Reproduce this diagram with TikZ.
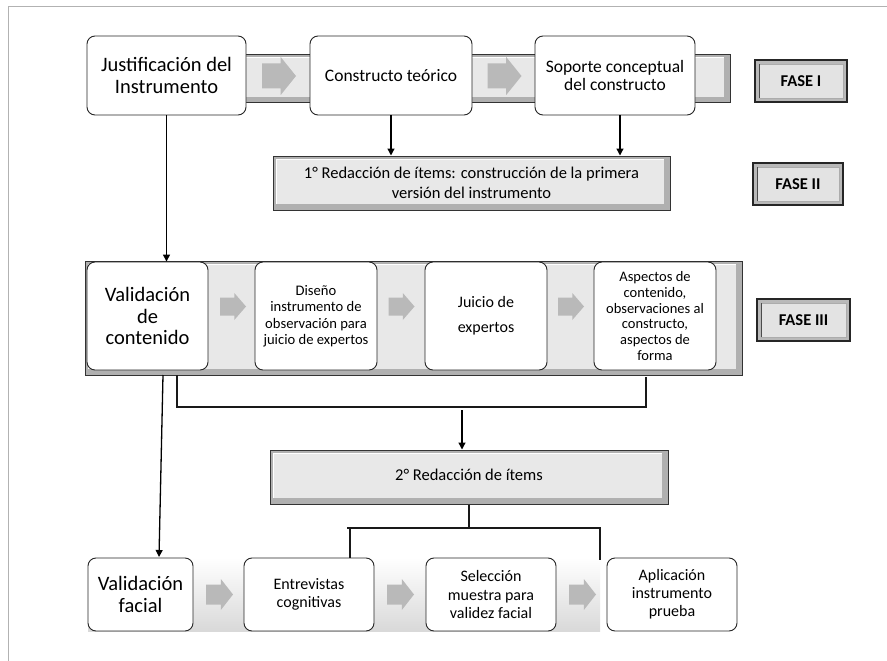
\documentclass[tikz,border=0pt]{standalone}
\usepackage{fontspec}
\setmainfont{Carlito}
\usetikzlibrary{calc,arrows.meta}
\begin{document}
\begin{tikzpicture}[x=1pt,y=-1pt,
  rbox/.style={draw=black!85, line width=0.9pt, rounded corners=8pt, fill=white, align=center, inner sep=2pt},
  conn/.style={draw=black, line width=1.3pt, -{Triangle[length=7pt,width=7pt]}},
  bline/.style={draw=black!90, line width=1.6pt},
  tline/.style={draw=black!90, line width=2.2pt},
  arrowfill/.style={fill=gray!55},
  pics/barrow/.style args={#1/#2/#3}{code={
    \fill[arrowfill] (-#1/2,-#3/2) -- ({-#1/2+0.55*#1},-#3/2) -- ({-#1/2+0.55*#1},-#2/2) -- (#1/2,0)
      -- ({-#1/2+0.55*#1},#2/2) -- ({-#1/2+0.55*#1},#3/2) -- (-#1/2,#3/2) -- cycle;}},
  bevel/.style={draw=black!80, line width=1pt, fill=gray!62, inner sep=0pt, align=center,
    path picture={
      \fill[gray!18] ($(path picture bounding box.north west)+(3,3)$) rectangle ($(path picture bounding box.south east)+(-6,-6)$);
      \draw[white, line width=1pt] ($(path picture bounding box.south west)+(3,-6)$) -- ($(path picture bounding box.north west)+(3,3)$) -- ($(path picture bounding box.north east)+(-6,3)$);
    }},
  fase/.style={draw=black!85, line width=1.3pt, fill=gray!55, inner sep=0pt,
    minimum height=42pt, font=\bfseries\fontsize{16.5}{19}\selectfont,
    path picture={
      \fill[gray!22] ($(path picture bounding box.north west)+(4,4)$) rectangle ($(path picture bounding box.south east)+(-4,-4)$);
      \draw[gray!65, line width=0.8pt] ($(path picture bounding box.north west)+(4,4)$) rectangle ($(path picture bounding box.south east)+(-4,-4)$);
      \draw[black!70, line width=1.4pt] ($(path picture bounding box.north west)+(4.5,4)$) -- ($(path picture bounding box.south west)+(4.5,-4)$);
    }},
]
\useasboundingbox (0,0) rectangle (887,661);
\fill[white] (0,0) rectangle (887,661);
% frame
\draw[gray!60, line width=1pt] (8,661) -- (8,7) -- (887,7);

% ===== Row 1 =====
\node[bevel, minimum width=530pt, minimum height=48pt] (band1) at (465,79) {};
\node[rbox, minimum width=159pt, minimum height=79pt, font=\fontsize{20.5}{22}\selectfont] (just) at (166.5,75.5) {Justificación del\\Instrumento};
\node[rbox, minimum width=162pt, minimum height=79pt, font=\fontsize{17.5}{19}\selectfont] (constr) at (391,75.5) {Constructo teórico};
\node[rbox, minimum width=160pt, minimum height=79pt, font=\fontsize{17.5}{18.5}\selectfont] (sop) at (615,75.5) {Soporte conceptual\\del constructo};
\pic at (279,76) {barrow=34/38/25};
\pic at (504.5,76) {barrow=34/38/25};
\node[fase, minimum width=92pt] (f1) at (801,81) {FASE I};

% ===== Row 2 =====
\node[bevel, minimum width=397pt, minimum height=54pt, font=\fontsize{16.5}{20}\selectfont] (red1) at (471.5,183) {1° Redacción de ítems: construcción de la primera\\versión del instrumento};
\node[fase, minimum width=90pt] (f2) at (798,184) {FASE II};

% ===== Row 3 =====
\node[bevel, minimum width=657pt, minimum height=114pt] (band3) at (413.5,318) {};
\node[rbox, minimum width=121pt, minimum height=108pt, font=\fontsize{20.5}{21.7}\selectfont] (valc) at (147.5,316) {Validación\\de\\contenido};
\node[rbox, minimum width=122pt, minimum height=108pt, font=\fontsize{14.6}{16.5}\selectfont] (dis) at (316,316) {Diseño\\instrumento de\\observación para\\juicio de expertos};
\node[rbox, minimum width=122pt, minimum height=108pt, font=\fontsize{16}{25}\selectfont] (jui) at (486,316) {Juicio de\\expertos};
\node[rbox, minimum width=122pt, minimum height=108pt, font=\fontsize{14.5}{15.8}\selectfont] (asp) at (655,316) {Aspectos de\\contenido,\\observaciones al\\constructo,\\aspectos de\\forma};
\pic at (233,306.5) {barrow=26/27/18};
\pic at (401.5,306.5) {barrow=26/27/18};
\pic at (571,306.5) {barrow=26/27/18};
\node[fase, minimum width=93pt] (f3) at (803.5,320) {FASE III};

% ===== Row 4 (2nd redaction) =====
\node[bevel, minimum width=398pt, minimum height=54pt, font=\fontsize{16.5}{18}\selectfont] (red2) at (469,477) {\raisebox{5pt}{2° Redacción de ítems}};

% ===== Row 5 =====
\node[minimum width=512pt, minimum height=73pt, inner sep=0pt, top color=white, bottom color=gray!30, draw=none] (band4) at (344,594.5) {};
\node[rbox, minimum width=105pt, minimum height=73pt, font=\fontsize{20.5}{21.7}\selectfont] (valf) at (140.5,594.5) {Validación\\facial};
\node[rbox, minimum width=130pt, minimum height=73pt, font=\fontsize{16}{18}\selectfont] (ent) at (309,594.5) {Entrevistas\\cognitivas};
\node[rbox, minimum width=130pt, minimum height=73pt, font=\fontsize{16}{18}\selectfont] (sel) at (491,594.5) {Selección\\muestra para\\validez facial};
\node[rbox, minimum width=130pt, minimum height=73pt, font=\fontsize{16}{18}\selectfont] (apl) at (672,594.5) {Aplicación\\instrumento\\prueba};
\pic at (219.5,594.5) {barrow=27/31/20};
\pic at (400.5,594.5) {barrow=27/31/20};
\pic at (582.5,594.5) {barrow=27/31/20};

% ===== Connectors =====
\draw[conn] (just.south) -- (just.south |- valc.north);
\draw[conn] (constr.south) -- (constr.south |- red1.north);
\coordinate (sopx) at ($(sop.south)+(5,0)$);
\draw[conn] (sopx) -- (sopx |- red1.north);

\coordinate (vc1) at (163,375);
\coordinate (vf1) at (159,557);
\draw[conn] (vc1) -- (vf1);

\coordinate (br1) at (177,375);
\coordinate (br2) at (646,407);
\coordinate (br3) at (646,377);
\draw[bline] (br1) |- (br2) -- (br3);
\coordinate (br4) at (462,410);
\draw[conn] (br4) -- (br4 |- red2.north);

\coordinate (hL) at (347,528);
\coordinate (hR) at (601,528);
\coordinate (sL) at (350,528);
\coordinate (sR) at (600,528);
\draw[tline] (red2.south) -- (red2.south |- hL);
\draw[tline] (hL) -- (hR);
\draw[tline] (sL) -- (sL |- ent.north);
\draw[tline] (sR) -- ($(sR |- apl.north)+(0,2)$);
\end{tikzpicture}
\end{document}
